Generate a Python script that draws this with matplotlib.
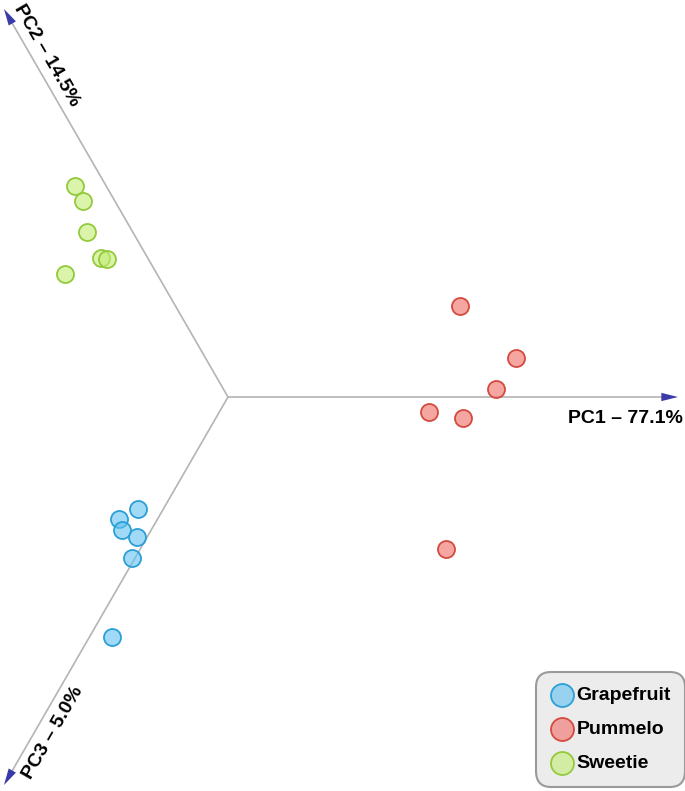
import numpy as np
import matplotlib
matplotlib.use("Agg")
import matplotlib.pyplot as plt

plt.rcParams['font.family'] = ['Liberation Sans', 'DejaVu Sans']

# projected scores (origin = centre of the three axes)
grapefruit_x = [-90, -109, -106, -91, -96, -116]
grapefruit_y = [-112, -122, -133, -140, -161, -240]
pummelo_x = [232, 288, 268, 201, 235, 218]
pummelo_y = [91, 39, 8, -15, -21, -152]
sweetie_x = [-153, -145, -141, -127, -121, -163]
sweetie_y = [211, 196, 165, 139, 138, 123]

axis_labels = ["PC1 \u2013 77.1%", "PC2 \u2013 14.5%", "PC3 \u2013 5.0%"]
axis_angles = [0, 120, 240]
axis_lengths = [450, 448, 448]

fig = plt.figure(figsize=(6.85, 7.91), dpi=100)
ax = fig.add_axes([0, 0, 1, 1])
ax.set_xlim(-228, 685 - 228)
ax.set_ylim(397 - 791, 397)
ax.set_aspect('equal')
ax.axis('off')

# axes with arrow heads
for ang, L in zip(axis_angles, axis_lengths):
    d = np.array([np.cos(np.radians(ang)), np.sin(np.radians(ang))])
    end = d * L
    ax.plot([0, end[0] - d[0] * 8], [0, end[1] - d[1] * 8], color='#b4b4b4', lw=1.2, zorder=1)
    ax.annotate('', xy=end, xytext=end - d * 18,
                arrowprops=dict(arrowstyle='-|>,head_length=1.2,head_width=0.3',
                                color='#3a3aa8', lw=0, shrinkA=0, shrinkB=0),
                zorder=2)

ax.text(455, -13, axis_labels[0], ha='right', va='top', fontsize=14, fontweight='bold')
ax.text(-181, 342, axis_labels[1], ha='center', va='center', rotation=-60,
        fontsize=14, fontweight='bold', rotation_mode='anchor')
ax.text(-175, -336, axis_labels[2], ha='center', va='center', rotation=60,
        fontsize=14, fontweight='bold', rotation_mode='anchor')

groups = [
    ("Grapefruit", grapefruit_x, grapefruit_y, (0.38, 0.76, 0.95, 0.6), '#2b9fd6'),
    ("Pummelo", pummelo_x, pummelo_y, (0.95, 0.50, 0.48, 0.7), '#d44a3e'),
    ("Sweetie", sweetie_x, sweetie_y, (0.76, 0.93, 0.45, 0.6), '#93c93a'),
]
for name, xs, ys, fc, ec in groups:
    ax.scatter(xs, ys, s=150, facecolor=fc, edgecolor=ec, linewidth=1.3,
               label=name, zorder=3)

leg = ax.legend(loc='lower right', bbox_to_anchor=(0.995, 0.01), frameon=True,
                fancybox=True, facecolor='#ececec', edgecolor='#9a9a9a',
                framealpha=1, markerscale=1.35, handletextpad=0.15,
                handlelength=1.2, borderpad=0.55, labelspacing=0.85,
                borderaxespad=0, prop=dict(size=14, weight='bold'))
leg.get_frame().set_linewidth(1.5)
leg.get_frame().set_boxstyle('round,pad=0.2,rounding_size=0.8')

fig.savefig('out.png', dpi=100)
